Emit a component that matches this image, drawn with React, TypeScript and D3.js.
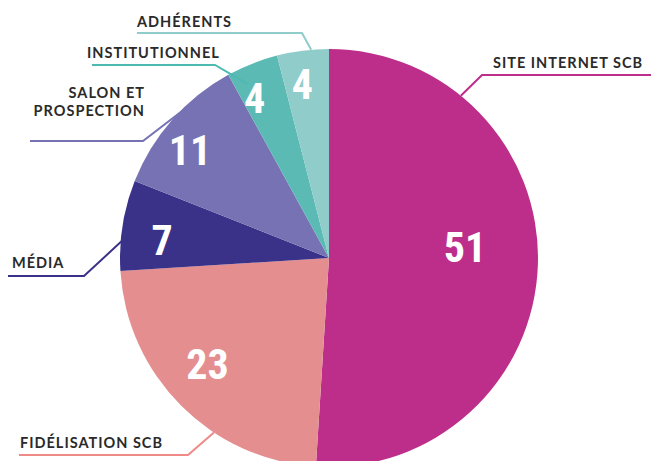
import * as d3 from "d3";

// DATA
const categories = ["SITE INTERNET SCB", "FIDÉLISATION SCB", "MÉDIA", "SALON ET PROSPECTION", "INSTITUTIONNEL", "ADHÉRENTS"];
const values = [51, 23, 7, 11, 4, 4];
const colors = ["#BD2E8B", "#E48E90", "#3A3289", "#7672B4", "#5CBAB4", "#90CCCA"];
const lineColors = ["#BD2E8B", "#F08A86", "#3A3289", "#7672B4", "#4DBAB2", "#90CCCA"];

// label layout (text lines, text anchor point, horizontal rule, where the leader meets the slice)
const labelLayout = [
  { lines: ["SITE INTERNET SCB"], x: 493, y: 68, anchor: "start", hx0: 651, hx1: 482, hy: 75, t: 0.213, r: 1.0 },
  { lines: ["FIDÉLISATION SCB"], x: 20, y: 448, anchor: "start", hx0: 19, hx1: 188, hy: 455, t: 0.36, r: 1.0 },
  { lines: ["MÉDIA"], x: 12, y: 268, anchor: "start", hx0: 8, hx1: 84, hy: 276, t: 0.34, r: 0.99 },
  { lines: ["SALON ET", "PROSPECTION"], x: 145, y: 116, anchor: "end", hx0: 30, hx1: 143, hy: 141, t: 0.91, r: 0.99 },
  { lines: ["INSTITUTIONNEL"], x: 87, y: 58, anchor: "start", hx0: 92, hx1: 215, hy: 65, t: 0.26, r: 0.92 },
  { lines: ["ADHÉRENTS"], x: 137, y: 27, anchor: "start", hx0: 137, hx1: 302, hy: 33, t: 0.66, r: 1.0 },
];
// small nudges of the value labels away from the plain centroid
const valueNudge = [[-1, -15], [0, -16], [3, 9], [-10, 6], [-11, 0], [-5, -3]];

const width = 651;
const height = 461;
const cx = 329;
const cy = 258;
const radius = 209;

export default function App() {
  const pie = d3.pie<number>().sort(null).value((d) => d);
  const arcs = pie(values);
  const arc = d3.arc<d3.PieArcDatum<number>>().innerRadius(0).outerRadius(radius);
  const labelArc = (d: d3.PieArcDatum<number>) => {
    const r = d.value > 40 ? 137 : 172;
    return d3.arc<d3.PieArcDatum<number>>().innerRadius(r).outerRadius(r).centroid(d);
  };
  const pointAt = (angle: number, r: number) => [Math.sin(angle) * r, -Math.cos(angle) * r];

  return (
    <svg width={width} height={height} style={{ position: "absolute", left: 0, top: 0, background: "#fff" }}>
      <g transform={`translate(${cx},${cy})`}>
        {arcs.map((d, i) => (
          <path key={i} d={arc(d) || ""} fill={colors[i]} />
        ))}
        {arcs.map((d, i) => {
          const [x, y] = labelArc(d);
          return (
            <text
              key={i}
              x={x + valueNudge[i][0]}
              y={y + valueNudge[i][1] + 15}
              textAnchor="middle"
              fill="#fff"
              fontFamily="'Liberation Sans Narrow', 'Roboto Condensed', Roboto, sans-serif"
              fontWeight={700}
              fontSize={42}
            >
              {values[i]}
            </text>
          );
        })}
      </g>
      {arcs.map((d, i) => {
        const L = labelLayout[i];
        const a = d.startAngle + L.t * (d.endAngle - d.startAngle);
        const [px, py] = pointAt(a, radius * L.r);
        return (
          <g key={i}>
            <polyline
              points={`${L.hx0},${L.hy} ${L.hx1},${L.hy} ${cx + px},${cy + py}`}
              fill="none"
              stroke={lineColors[i]}
              strokeWidth={2}
            />
            <text
              x={L.x}
              y={L.y - (L.lines.length - 1) * 18}
              textAnchor={L.anchor}
              fill="#2a2a2a"
              fontFamily="Lato, 'Open Sans', sans-serif"
              fontWeight={700}
              fontSize={14.5}
              letterSpacing={1}
            >
              {L.lines.map((s, j) => (
                <tspan key={j} x={L.x} dy={j === 0 ? 0 : 18}>
                  {s}
                </tspan>
              ))}
            </text>
          </g>
        );
      })}
      <title>{categories.join(", ")}</title>
    </svg>
  );
}
